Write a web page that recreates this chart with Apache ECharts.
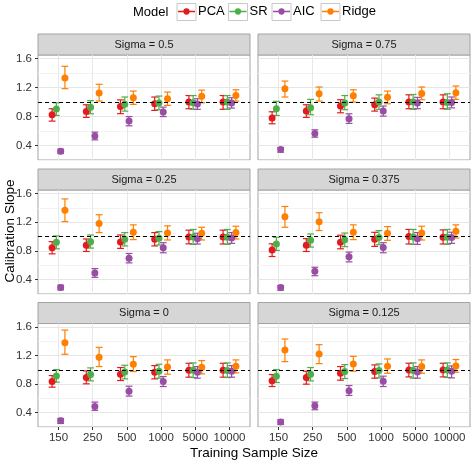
<!DOCTYPE html>
<html><head><meta charset="utf-8">
<script src="https://cdn.jsdelivr.net/npm/echarts@6/dist/echarts.min.js"></script>
<style>html,body{margin:0;padding:0;background:#fff}#c{width:472px;height:461px}</style>
</head><body><div id="c"></div>
<script>
const categories = ['150','250','500','1000','5000','10000'];
const models = ['PCA','SR','AIC','Ridge'];
const modelColors = ['#E41A1C','#4DAF4A','#984EA3','#FF7F00'];
const panelTitles = ['Sigma = 0.5','Sigma = 0.75','Sigma = 0.25','Sigma = 0.375','Sigma = 0','Sigma = 0.125'];
const yMajorTicks = [0.4,0.8,1.2,1.6];
const refValue = 1.0;
// [mean, lower, upper] per training size
const s050_PCA  = [[0.825,0.737,0.908],[0.871,0.788,0.963],[0.94,0.84,1.03],[0.977,0.885,1.07],[1.0,0.908,1.09],[1.0,0.9,1.09]];
const s050_SR   = [[0.903,0.815,0.99],[0.93,0.838,1.02],[0.97,0.875,1.07],[0.986,0.894,1.083],[0.99,0.9,1.09],[1.0,0.9,1.09]];
const s050_AIC  = [[0.322,0.29,0.35],[0.53,0.478,0.585],[0.737,0.672,0.8],[0.862,0.8,0.93],[0.972,0.9,1.046],[0.986,0.917,1.06]];
const s050_Ridge= [[1.332,1.185,1.494],[1.125,1.014,1.245],[1.06,0.968,1.152],[1.046,0.954,1.138],[1.08,0.99,1.165],[1.09,1.013,1.17]];

const s075_PCA  = [[0.78,0.7,0.866],[0.875,0.788,0.963],[0.945,0.852,1.032],[0.963,0.875,1.055],[1.0,0.908,1.1],[1.0,0.908,1.1]];
const s075_SR   = [[0.908,0.815,1.01],[0.922,0.825,1.037],[0.986,0.894,1.09],[1.0,0.9,1.1],[1.0,0.9,1.105],[0.995,0.9,1.115]];
const s075_AIC  = [[0.345,0.308,0.372],[0.566,0.515,0.617],[0.77,0.705,0.838],[0.875,0.806,0.945],[0.986,0.908,1.065],[0.995,0.92,1.07]];
const s075_Ridge= [[1.185,1.07,1.29],[1.115,1.014,1.208],[1.088,1.0,1.17],[1.065,0.977,1.152],[1.12,1.032,1.208],[1.13,1.037,1.222]];

const s025_PCA  = [[0.845,0.76,0.93],[0.878,0.793,0.967],[0.925,0.836,1.023],[0.962,0.87,1.056],[0.995,0.9,1.09],[0.995,0.897,1.09]];
const s025_SR   = [[0.92,0.83,1.01],[0.93,0.84,1.023],[0.962,0.87,1.056],[0.977,0.883,1.07],[0.995,0.892,1.1],[0.99,0.892,1.1]];
const s025_AIC  = [[0.29,0.258,0.324],[0.493,0.432,0.554],[0.7,0.634,0.765],[0.845,0.775,0.915],[0.972,0.897,1.047],[0.98,0.906,1.056]];
const s025_Ridge= [[1.366,1.21,1.526],[1.183,1.056,1.305],[1.061,0.958,1.164],[1.052,0.953,1.15],[1.047,0.953,1.13],[1.056,0.967,1.145]];

const s0375_PCA  = [[0.812,0.723,0.9],[0.878,0.793,0.972],[0.92,0.83,1.02],[0.962,0.864,1.06],[1.0,0.897,1.1],[0.99,0.897,1.094]];
const s0375_SR   = [[0.897,0.808,0.99],[0.948,0.854,1.037],[0.958,0.86,1.05],[0.986,0.887,1.084],[0.995,0.892,1.1],[0.99,0.892,1.1]];
const s0375_AIC  = [[0.29,0.253,0.319],[0.516,0.455,0.573],[0.718,0.648,0.784],[0.85,0.775,0.915],[0.972,0.892,1.056],[0.986,0.906,1.061]];
const s0375_Ridge= [[1.277,1.13,1.42],[1.206,1.085,1.333],[1.06,0.958,1.164],[1.047,0.948,1.14],[1.052,0.953,1.145],[1.075,0.98,1.164]];

const s000_PCA  = [[0.837,0.758,0.921],[0.893,0.805,0.986],[0.94,0.851,1.033],[0.967,0.874,1.06],[0.995,0.898,1.093],[0.995,0.898,1.093]];
const s000_SR   = [[0.916,0.828,1.005],[0.935,0.846,1.028],[0.972,0.874,1.065],[0.981,0.884,1.079],[0.995,0.893,1.098],[0.991,0.893,1.098]];
const s000_AIC  = [[0.288,0.25,0.32],[0.488,0.433,0.549],[0.702,0.633,0.772],[0.837,0.767,0.907],[0.967,0.884,1.046],[0.981,0.898,1.06]];
const s000_Ridge= [[1.381,1.219,1.558],[1.177,1.047,1.316],[1.079,0.977,1.186],[1.042,0.94,1.14],[1.037,0.944,1.13],[1.051,0.958,1.14]];

const s0125_PCA  = [[0.847,0.767,0.935],[0.893,0.8,0.981],[0.953,0.856,1.047],[0.977,0.884,1.07],[1.0,0.902,1.093],[1.0,0.902,1.093]];
const s0125_SR   = [[0.912,0.823,1.005],[0.94,0.846,1.033],[0.977,0.879,1.074],[0.991,0.888,1.084],[0.991,0.884,1.098],[1.0,0.893,1.098]];
const s0125_AIC  = [[0.27,0.237,0.302],[0.498,0.442,0.549],[0.707,0.642,0.781],[0.842,0.767,0.912],[0.972,0.884,1.047],[0.981,0.888,1.056]];
const s0125_Ridge= [[1.279,1.116,1.433],[1.223,1.088,1.353],[1.084,0.981,1.19],[1.051,0.953,1.153],[1.047,0.953,1.14],[1.056,0.967,1.145]];

const panelData = [
  [s050_PCA, s050_SR, s050_AIC, s050_Ridge],
  [s075_PCA, s075_SR, s075_AIC, s075_Ridge],
  [s025_PCA, s025_SR, s025_AIC, s025_Ridge],
  [s0375_PCA, s0375_SR, s0375_AIC, s0375_Ridge],
  [s000_PCA, s000_SR, s000_AIC, s000_Ridge],
  [s0125_PCA, s0125_SR, s0125_AIC, s0125_Ridge]
];

// layout
const FONT = 'Liberation Sans, Arial, sans-serif';
const colLeft = [38, 258], colWidth = 212;
const rowTop = [55, 190, 323.5], rowHeight = [105, 104, 103.5];
const stripH = 21;
const dodgeW = 0.5, capW = 0.2;
const borderCol = '#a3a3a3';
const Y_MIN = 0.2, Y_MAX = 1.65;

const grids = [], xAxes = [], yAxes = [], tickAxes = [], series = [], graphics = [];
for (let p = 0; p < 6; p++) {
  const r = Math.floor(p / 2), c = p % 2;
  grids.push({left: colLeft[c], top: rowTop[r], width: colWidth, height: rowHeight[r], show: true,
    borderColor: borderCol, borderWidth: 1, backgroundColor: '#fff', containLabel: false});
  const bottomRow = r === 2, leftCol = c === 0;
  xAxes.push({type: 'value', gridIndex: p, min: -0.6, max: 5.6, position: 'bottom',
    axisLine: {show: false},
    axisTick: {show: bottomRow, customValues: categories.map((_, i) => i), length: 3, lineStyle: {color: '#333'}},
    axisLabel: {show: bottomRow, customValues: categories.map((_, i) => i), formatter: v => categories[Math.round(v)],
      color: '#333', fontSize: 11.5, fontFamily: FONT, margin: 5},
    splitLine: {show: true, lineStyle: {color: '#e8e8e8', width: 1}}
  });
  yAxes.push({type: 'value', gridIndex: p, min: Y_MIN, max: Y_MAX, interval: 0.2, position: 'left',
    axisLine: {show: false}, axisTick: {show: false},
    axisLabel: {show: leftCol, showMaxLabel: false, color: '#333', fontSize: 11.5, fontFamily: FONT, margin: 6,
      formatter: v => yMajorTicks.some(t => Math.abs(t - v) < 1e-6) ? v.toFixed(1) : ''},
    splitLine: {show: true, showMaxLine: false, showMinLine: true, lineStyle: {color: ['#f3f3f3', '#e6e6e6'], width: 1}}
  });
  tickAxes.push({type: 'value', gridIndex: p, min: Y_MIN, max: Y_MAX, silent: true, position: 'left', offset: 0,
    axisLine: {show: false}, axisLabel: {show: false}, splitLine: {show: false},
    axisTick: {show: leftCol, customValues: yMajorTicks, length: 3, lineStyle: {color: '#333'}}});
  // reference dashed line holder
  series.push({type: 'line', xAxisIndex: p, yAxisIndex: p, data: [], silent: true, z: 1,
    markLine: {silent: true, symbol: 'none', label: {show: false},
      lineStyle: {color: '#000', type: [4, 3], width: 1.2}, data: [{yAxis: refValue}]}});
  panelData[p].forEach((arr, m) => {
    const off = (m - 1.5) * dodgeW / 4;
    series.push({type: 'custom', name: models[m], xAxisIndex: p, yAxisIndex: p, z: 2,
      itemStyle: {color: modelColors[m]},
      encode: {x: 0, y: [1, 2]},
      data: arr.map((d, i) => [i + off, d[1], d[2]]),
      renderItem: (params, api) => {
        const x = api.value(0);
        const pl = api.coord([x, api.value(1)]);
        const ph = api.coord([x, api.value(2)]);
        const half = api.size([capW, 0])[0] / 2;
        const st = {stroke: modelColors[m], lineWidth: 1.2};
        return {type: 'group', children: [
          {type: 'line', shape: {x1: pl[0], y1: pl[1], x2: ph[0], y2: ph[1]}, style: st},
          {type: 'line', shape: {x1: pl[0] - half, y1: pl[1], x2: pl[0] + half, y2: pl[1]}, style: st},
          {type: 'line', shape: {x1: ph[0] - half, y1: ph[1], x2: ph[0] + half, y2: ph[1]}, style: st}
        ]};
      }
    });
    series.push({type: 'scatter', name: models[m], xAxisIndex: p, yAxisIndex: p, z: 3,
      symbolSize: 7, itemStyle: {color: modelColors[m], opacity: 1},
      data: arr.map((d, i) => [i + off, d[0]])});
  });
  // strip
  graphics.push({type: 'rect', shape: {x: colLeft[c], y: rowTop[r] - stripH, width: colWidth, height: stripH},
    style: {fill: '#d6d6d6', stroke: borderCol, lineWidth: 1}});
  graphics.push({type: 'text', x: colLeft[c] + colWidth / 2, y: rowTop[r] - stripH / 2,
    style: {text: panelTitles[p], fill: '#1a1a1a', font: '11px ' + FONT, align: 'center', verticalAlign: 'middle'}});
}
// axis titles
graphics.push({type: 'text', x: 254, y: 453, style: {text: 'Training Sample Size', fill: '#000', font: '13.5px ' + FONT, align: 'center', verticalAlign: 'middle'}});
graphics.push({type: 'text', x: 10, y: 231, rotation: Math.PI / 2,
  style: {text: 'Calibration Slope', fill: '#000', font: '13.5px ' + FONT, align: 'center', verticalAlign: 'middle'}});
// legend title and key boxes
graphics.push({type: 'text', x: 133, y: 12, style: {text: 'Model', fill: '#000', font: '13px ' + FONT, align: 'left', verticalAlign: 'middle'}});
const keyBoxX = [177, 228.5, 272, 321];
keyBoxX.forEach(x => graphics.push({type: 'rect', shape: {x: x, y: 3.5, width: 19, height: 17},
  style: {fill: '#fff', stroke: '#c8c8c8', lineWidth: 1}}));

const iconPath = 'path://M0,2.8h19v1.4H0z M9.5,0a3.5,3.5 0 1,1 0,7a3.5,3.5 0 1,1 0,-7z';
const legends = models.map((m, i) => ({data: [m], left: keyBoxX[i] + 1, top: 5, itemWidth: 17, itemHeight: 7,
  icon: iconPath, itemGap: 0, padding: 0, selectedMode: false,
  textStyle: {fontSize: 13, fontFamily: FONT, color: '#000', padding: [0, 0, 0, -2]}}));

const chart = echarts.init(document.getElementById('c'), null, {renderer: 'canvas'});
chart.setOption({
  animation: false,
  backgroundColor: '#fff',
  textStyle: {fontFamily: FONT},
  grid: grids, xAxis: xAxes, yAxis: yAxes.concat(tickAxes),
  legend: legends,
  graphic: {elements: graphics},
  series: series
});
</script></body></html>
